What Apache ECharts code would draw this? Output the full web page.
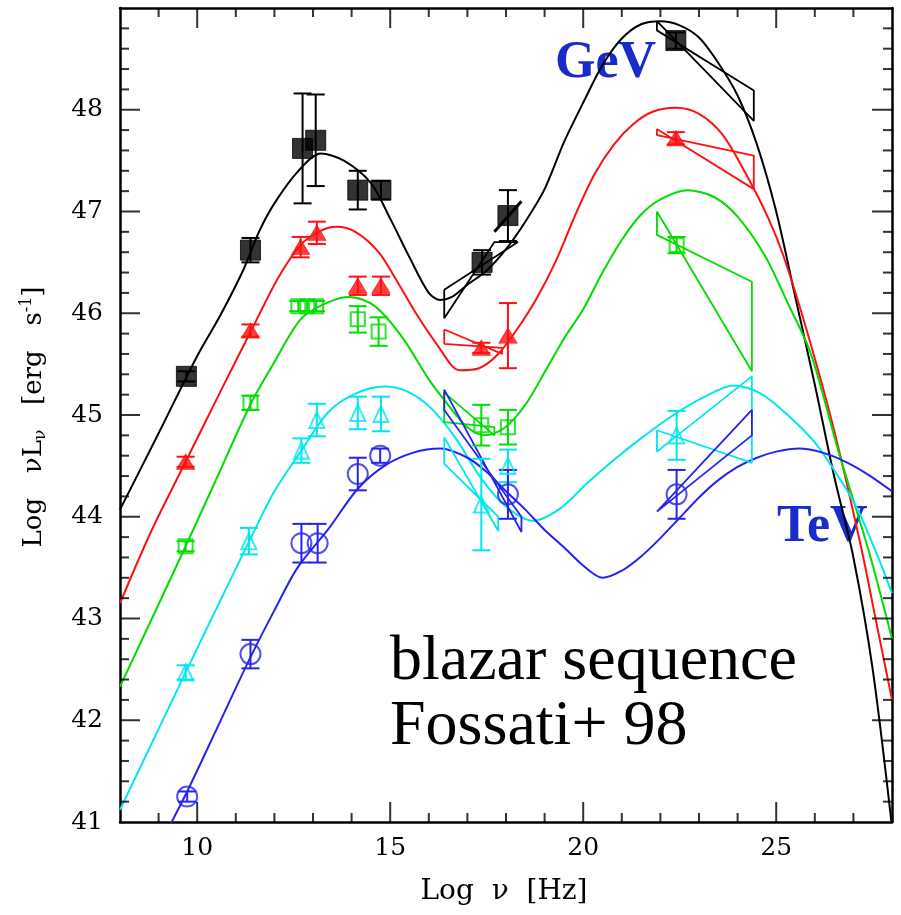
<!DOCTYPE html>
<html><head><meta charset="utf-8">
<script src="https://cdn.jsdelivr.net/npm/echarts@6/dist/echarts.min.js"></script>
<style>html,body{margin:0;padding:0;background:#fff}#c{width:901px;height:915px}</style>
</head><body><div id="c"></div>
<script>
// ---- tick labels / tick positions ----
const xMajor = [10, 15, 20, 25];
const xMinor = [9, 11, 12, 13, 14, 16, 17, 18, 19, 21, 22, 23, 24, 26, 27];
const yLabels = [41, 42, 43, 44, 45, 46, 47, 48];
const yMajor = [42, 43, 44, 45, 46, 47, 48];
const yMinor = [41.2,41.4,41.6,41.8,42.2,42.4,42.6,42.8,43.2,43.4,43.6,43.8,44.2,44.4,44.6,44.8,
                45.2,45.4,45.6,45.8,46.2,46.4,46.6,46.8,47.2,47.4,47.6,47.8,48.2,48.4,48.6,48.8];

// ---- model curves [log nu, log nuLnu] ----
const blackCurve = [[8.0,44.07],[9.0,44.82],[10.0,45.58],[10.6,45.98],[11.2,46.43],[11.6,46.8],[12.0,47.08],[12.6,47.39],[13.2,47.57],[13.8,47.5],[14.5,47.28],[15.0,46.93],[15.5,46.55],[16.0,46.2],[16.3,46.13],[16.6,46.16],[17.0,46.28],[17.5,46.42],[18.0,46.63],[18.5,46.9],[19.0,47.22],[19.5,47.68],[20.0,48.07],[20.5,48.44],[21.0,48.7],[21.5,48.84],[22.0,48.87],[22.5,48.83],[23.0,48.71],[23.5,48.46],[24.0,48.14],[24.5,47.66],[25.0,47.0],[25.5,46.15],[26.0,45.3],[26.5,44.4],[27.0,43.6],[27.5,42.5],[28.0,40.95]];
const redCurve = [[8.0,43.15],[8.8,43.85],[9.7,44.54],[10.6,45.23],[11.4,45.83],[12.1,46.35],[12.7,46.68],[13.2,46.81],[13.6,46.85],[14.1,46.8],[14.7,46.6],[15.2,46.3],[15.7,45.98],[16.2,45.7],[16.8,45.44],[17.3,45.46],[17.8,45.6],[18.3,45.85],[18.8,46.15],[19.3,46.52],[19.8,46.97],[20.3,47.37],[20.8,47.66],[21.3,47.86],[21.8,47.98],[22.4,48.02],[23.0,47.96],[23.6,47.76],[24.2,47.38],[24.8,46.93],[25.2,46.55],[25.8,45.82],[26.5,44.85],[27.2,43.7],[27.6,42.95],[28.0,42.2]];
const greenCurve = [[8.0,42.33],[9.0,43.14],[9.7,43.71],[10.4,44.29],[11.4,45.12],[12.0,45.52],[12.7,45.95],[13.4,46.11],[13.95,46.16],[14.6,46.07],[15.3,45.77],[16.0,45.35],[16.5,45.1],[17.0,44.88],[17.45,44.8],[17.95,44.87],[18.5,45.1],[19.0,45.42],[19.5,45.75],[20.0,46.04],[20.5,46.4],[21.0,46.72],[21.5,46.97],[22.0,47.12],[22.7,47.21],[23.4,47.14],[24.0,46.95],[24.7,46.57],[25.3,46.1],[25.9,45.6],[26.6,44.66],[27.4,43.66],[28.0,42.8]];
const cyanCurve = [[8.0,41.12],[9.7,42.47],[10.5,43.1],[11.4,43.8],[12.0,44.25],[12.7,44.65],[13.4,45.03],[14.1,45.21],[14.85,45.28],[15.45,45.23],[16.05,45.07],[16.7,44.77],[17.35,44.38],[18.0,44.1],[18.7,43.96],[19.4,44.08],[20.1,44.33],[20.8,44.56],[21.5,44.77],[22.3,44.99],[23.1,45.17],[23.9,45.29],[24.6,45.21],[25.3,45.0],[26.0,44.73],[26.6,44.4],[27.1,44.08],[27.6,43.64],[28.0,43.25]];
const blueCurve = [[9.2,40.9],[9.74,41.3],[10.5,41.91],[11.38,42.62],[12.0,43.08],[12.6,43.5],[13.4,43.88],[14.15,44.27],[14.85,44.5],[15.6,44.63],[16.3,44.67],[17.0,44.58],[17.5,44.44],[18.0,44.25],[18.5,44.07],[19.0,43.87],[19.5,43.7],[20.0,43.52],[20.5,43.4],[21.0,43.47],[21.5,43.61],[22.0,43.79],[22.5,43.99],[23.0,44.19],[23.5,44.36],[24.0,44.49],[24.5,44.58],[25.0,44.64],[25.6,44.67],[26.2,44.63],[26.8,44.54],[27.4,44.41],[28.0,44.25]];

// ---- data points [log nu, log nuLnu, error] ----
const blackPts = [[9.72,45.38,0.05],[11.38,46.62,0.12],[12.73,47.62,0.54],[13.07,47.7,0.45],[14.16,47.21,0.19],[14.76,47.21,0.09],[17.38,46.5,0.12],[18.05,46.96,0.25],[22.4,48.68,0.08]];
const redPts = [[9.7,44.54,0.05],[11.38,45.83,0.06],[12.68,46.65,0.1],[13.1,46.79,0.11],[14.16,46.27,0.09],[14.76,46.27,0.09],[17.36,45.66,0.05],[18.05,45.78,0.32],[22.4,47.72,0.06]];
const greenPts = [[9.7,43.71,0.05],[11.38,45.12,0.07],[12.62,46.07,0.05],[12.85,46.07,0.05],[13.08,46.07,0.05],[14.16,45.94,0.13],[14.7,45.82,0.14],[17.36,44.9,0.2],[18.05,44.88,0.17],[22.42,46.67,0.08]];
const cyanPts = [[9.7,42.47,0.07],[11.34,43.76,0.13],[12.7,44.65,0.12],[13.1,44.95,0.16],[14.16,45.02,0.16],[14.76,45.01,0.17],[17.36,44.12,0.45],[18.05,44.5,0.16],[22.42,44.8,0.24]];
const bluePts = [[9.74,41.25,0.05],[11.38,42.65,0.14],[12.7,43.74,0.19],[13.12,43.74,0.19],[14.16,44.42,0.16],[14.74,44.6,0.07],[18.05,44.22,0.24],[22.42,44.22,0.24]];

// ---- spectral bow-ties (X-ray and gamma-ray) ----
const blackXbow = [[16.4,46.23],[18.31,46.7],[17.7,46.7],[16.4,45.95],[16.4,46.23]];
const blackXseg = [[17.7,46.8],[18.4,47.1]];
const blackGbow = [[21.91,48.87],[24.42,47.89],[24.42,48.19],[21.91,48.78],[21.91,48.87]];
const redXbow = [[16.4,45.84],[17.9,45.6],[17.9,45.66],[16.4,45.7],[16.4,45.84]];
const redGbow = [[21.91,47.81],[24.42,47.22],[24.42,47.55],[21.91,47.75],[21.91,47.81]];
const greenXbow = [[16.4,45.22],[17.7,44.8],[17.7,44.88],[16.4,44.93],[16.4,45.22]];
const greenGbow = [[21.91,47.0],[24.37,45.43],[24.37,46.31],[21.91,46.77],[21.91,47.0]];
const cyanXbow = [[16.4,44.78],[17.8,43.86],[17.8,44.0],[16.4,44.52],[16.4,44.78]];
const cyanGbow = [[21.91,44.85],[24.37,44.53],[24.37,45.38],[21.91,44.64],[21.91,44.85]];
const blueXbow = [[16.4,45.25],[18.4,43.85],[18.4,44.0],[16.4,45.05],[16.4,45.25]];
const blueGbow = [[21.91,44.05],[24.37,45.05],[24.37,44.8],[21.91,44.05]];

const C = {black:'#000000', red:'#ff1010', green:'#00dd00', cyan:'#00e6f0', blue:'#2424f0'};
const FONT = 'DejaVu Serif';
const XMIN = 8, XMAX = 28, YMIN = 41, YMAX = 49;

function xAx(pos, labels, line) {
  return {type:'value', position:pos, min:XMIN, max:XMAX, gridIndex:0,
    axisLine:{show:line, onZero:false, lineStyle:{color:'#000', width:2.5}},
    axisTick:{show:false},
    axisLabel:labels ? {show:true, customValues:labels, margin:14, color:'#000', fontFamily:FONT, fontSize:25} : {show:false},
    splitLine:{show:false}};
}
function yAx(pos, labels, line) {
  return {type:'value', position:pos, min:YMIN, max:YMAX, gridIndex:0,
    axisLine:{show:line, onZero:false, lineStyle:{color:'#000', width:2.5}},
    axisTick:{show:false},
    axisLabel:labels ? {show:true, customValues:labels, margin:17, color:'#000', fontFamily:FONT, fontSize:25} : {show:false},
    splitLine:{show:false}};
}
// tick marks on the four sides of the frame: thin rect symbols anchored on the frame through the axis scales
function tickMarks(points, size, offset) {
  return {type:'scatter', data:points, symbol:'rect', symbolSize:size, symbolOffset:offset,
    clip:false, z:5, silent:true, itemStyle:{color:'#000', borderWidth:0}};
}
const tickSeries = [
  tickMarks(xMajor.map(v => [v, YMIN]), [2, 20], [0, -10]),
  tickMarks(xMinor.map(v => [v, YMIN]), [2, 9], [0, -4.5]),
  tickMarks(xMajor.map(v => [v, YMAX]), [2, 20], [0, 10]),
  tickMarks(xMinor.map(v => [v, YMAX]), [2, 9], [0, 4.5]),
  tickMarks(yMajor.map(v => [XMIN, v]), [20, 2], [10, 0]),
  tickMarks(yMinor.map(v => [XMIN, v]), [9, 2], [4.5, 0]),
  tickMarks(yMajor.map(v => [XMAX, v]), [20, 2], [-10, 0]),
  tickMarks(yMinor.map(v => [XMAX, v]), [9, 2], [-4.5, 0])
];

function curve(d, c) {
  return {type:'line', data:d, smooth:0.3, showSymbol:false, clip:true, z:2,
    lineStyle:{color:c, width:2}, silent:true};
}
function poly(d, c, w) {
  return {type:'line', data:d, smooth:false, showSymbol:false, clip:true, z:2,
    lineStyle:{color:c, width:w || 1.8}, silent:true};
}
function errs(d, c) {
  return {type:'custom', data:d, clip:true, z:3, silent:true, encode:{x:0, y:1},
    renderItem(params, api) {
      const x = api.value(0), y = api.value(1), e = api.value(2);
      const t = api.coord([x, y + e]), b = api.coord([x, y - e]);
      const w = 9, st = {stroke:c, lineWidth:2};
      return {type:'group', children:[
        {type:'line', shape:{x1:t[0], y1:t[1], x2:b[0], y2:b[1]}, style:st},
        {type:'line', shape:{x1:t[0]-w, y1:t[1], x2:t[0]+w, y2:t[1]}, style:st},
        {type:'line', shape:{x1:b[0]-w, y1:b[1], x2:b[0]+w, y2:b[1]}, style:st}
      ]};
    }};
}
function marks(d, c, symbol, size, hollow) {
  return {type:'scatter', data:d, symbol:symbol, symbolSize:size, z:4, silent:true,
    itemStyle: hollow ? {color:'rgba(255,255,255,0)', borderColor:c, borderWidth:2}
                      : {color:c, borderColor:c, borderWidth:1}};
}

const option = {
  animation:false,
  backgroundColor:'#fff',
  grid:{left:120, top:8, width:772, height:814, containLabel:false},
  xAxis:[xAx('bottom', xMajor, true), xAx('top', null, true)],
  yAxis:[yAx('left', yLabels, true), yAx('right', null, true)],
  series:[
    curve(blackCurve, C.black), curve(redCurve, C.red), curve(greenCurve, C.green),
    curve(cyanCurve, C.cyan), curve(blueCurve, C.blue),
    poly(blackXbow, C.black), poly(blackXseg, C.black, 3), poly(blackGbow, C.black),
    poly(redXbow, C.red), poly(redGbow, C.red),
    poly(greenXbow, C.green), poly(greenGbow, C.green),
    poly(cyanXbow, C.cyan), poly(cyanGbow, C.cyan),
    poly(blueXbow, C.blue), poly(blueGbow, C.blue),
    errs(blackPts, C.black), errs(redPts, C.red), errs(greenPts, C.green), errs(cyanPts, C.cyan), errs(bluePts, C.blue),
    marks(blackPts, C.black, 'rect', 20, false),
    marks(redPts, C.red, 'triangle', [18, 15], false),
    marks(greenPts, C.green, 'rect', 14, true),
    marks(cyanPts, C.cyan, 'triangle', [15, 16], true),
    marks(bluePts, C.blue, 'circle', 20, true)
  ].concat(tickSeries),
  graphic:[
    {type:'text', x:555, y:64, style:{text:'GeV', font:'bold 52px "Liberation Serif"', fill:'#1a2cc8', align:'left', verticalAlign:'middle'}},
    {type:'text', x:777, y:528, style:{text:'TeV', font:'bold 52px "Liberation Serif"', fill:'#1a2cc8', align:'left', verticalAlign:'middle'}},
    {type:'text', x:390, y:662, style:{text:'blazar sequence', font:'64px "Liberation Serif"', fill:'#000', align:'left', verticalAlign:'middle'}},
    {type:'text', x:390, y:727, style:{text:'Fossati+ 98', font:'64px "Liberation Serif"', fill:'#000', align:'left', verticalAlign:'middle'}},
    {type:'text', x:504, y:892, style:{text:'Log  ν  [Hz]', font:'28px "DejaVu Serif"', fill:'#000', align:'center', verticalAlign:'middle'}},
    {type:'text', x:34, y:417, rotation:Math.PI/2,
      style:{text:'Log   νL{s|ν}   [erg   s{p|-1}]', font:'26px "DejaVu Serif"', fill:'#000', align:'center', verticalAlign:'middle',
        rich:{s:{fontSize:17, fontFamily:'DejaVu Serif', verticalAlign:'bottom', padding:[13,0,0,0]},
              p:{fontSize:16, fontFamily:'DejaVu Serif', verticalAlign:'top', padding:[0,0,11,0]}}}}
  ]
};
const chart = echarts.init(document.getElementById('c'));
chart.setOption(option);
</script></body></html>
